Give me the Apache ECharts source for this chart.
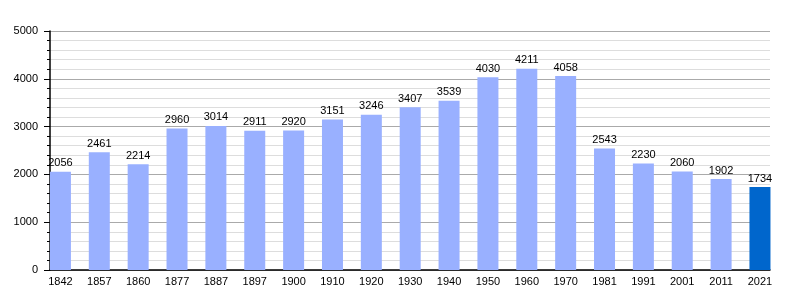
<!DOCTYPE html>
<html><head><meta charset="utf-8">
<script src="https://cdn.jsdelivr.net/npm/echarts@6/dist/echarts.min.js"></script>
<style>html,body{margin:0;padding:0;background:#fff}#c{width:800px;height:300px}</style>
</head><body><div id="c"></div>
<script>
const categories = ['1842','1857','1860','1877','1887','1897','1900','1910','1920','1930','1940','1950','1960','1970','1981','1991','2001','2011','2021'];
const population = [2056,2461,2214,2960,3014,2911,2920,3151,3246,3407,3539,4030,4211,4058,2543,2230,2060,1902,1734];
const highlightIndex = 18;
const yTicks = [0,1000,2000,3000,4000,5000];

const chart = echarts.init(document.getElementById('c'), null, {renderer:'canvas'});
const font = 'Liberation Sans, Arial, sans-serif';
chart.setOption({
  animation:false,
  grid:[
    {left:50, width:720, top:31, bottom:30},
    {left:41, width:738.4, top:31, bottom:30}
  ],
  xAxis:[
    {gridIndex:0, type:'value', min:0, max:1, axisLine:{show:true, lineStyle:{color:'#000', width:1.5}}, axisTick:{show:false}, axisLabel:{show:false}, splitLine:{show:false}},
    {gridIndex:1, type:'category', data:categories, axisLine:{show:false}, axisTick:{show:false},
     axisLabel:{color:'#000', fontFamily:font, fontSize:11, margin:6}}
  ],
  yAxis:[
    {gridIndex:0, type:'value', min:yTicks[0], max:yTicks[yTicks.length-1], interval:1000,
     axisLine:{show:true, lineStyle:{color:'#000', width:1.5}},
     axisTick:{show:true, length:6, lineStyle:{color:'#000'}},
     minorTick:{show:true, splitNumber:5, length:3, lineStyle:{color:'#000'}},
     axisLabel:{color:'#000', fontFamily:font, fontSize:11, margin:12, formatter:(v)=>String(v)},
     splitLine:{show:true, lineStyle:{color:'#aaa', width:1}},
     minorSplitLine:{show:true, lineStyle:{color:'#ddd', width:1}}},
    {gridIndex:1, type:'value', min:0, max:5000, show:false}
  ],
  series:[{
    type:'bar', xAxisIndex:1, yAxisIndex:1, barWidth:21,
    data: population.map((v,i)=>({value:v, itemStyle:{color: i===highlightIndex ? '#0066cc' : '#99b0ff'}})),
    label:{show:true, position:'top', distance:3, color:'#000', fontFamily:font, fontSize:11}
  }]
});
</script></body></html>
